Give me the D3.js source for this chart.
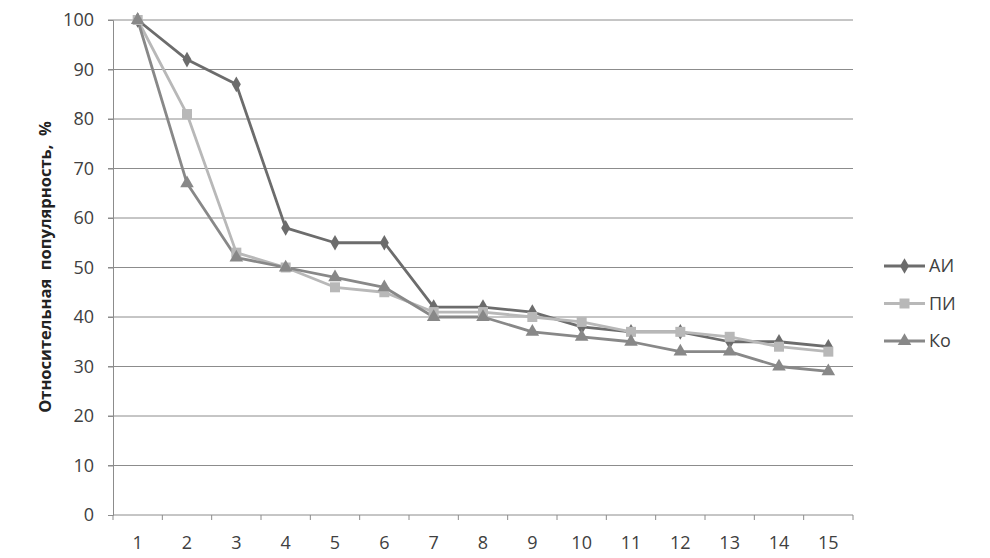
<!DOCTYPE html>
<html><head><meta charset="utf-8">
<script src="https://cdn.jsdelivr.net/npm/d3@7"></script>
<style>body{margin:0;background:#fff}svg{display:block}text{font-family:"Open Sans",sans-serif}</style>
</head><body><svg id="c" width="990" height="558"></svg>
<script>
const categories = ["1","2","3","4","5","6","7","8","9","10","11","12","13","14","15"];
const seriesNames = ["АИ","ПИ","Ко"];
const valuesAI = [100,92,87,58,55,55,42,42,41,38,37,37,35,35,34];
const valuesPI = [100,81,53,50,46,45,41,41,40,39,37,37,36,34,33];
const valuesKo = [100,67,52,50,48,46,40,40,37,36,35,33,33,30,29];
const yTicks = [0,10,20,30,40,50,60,70,80,90,100];
const yTitle = "Относительная  популярность,  %";

const series = [
  {name: seriesNames[0], values: valuesAI, color: "#6c6c6c", symbol: d3.symbolDiamond, size: 70},
  {name: seriesNames[1], values: valuesPI, color: "#b8b8b8", symbol: d3.symbolSquare, size: 100},
  {name: seriesNames[2], values: valuesKo, color: "#888888", symbol: d3.symbolTriangle, size: 80}
];

const svg = d3.select("#c");
const L = 113, R = 853, T = 20, B = 515;
const x = d3.scaleBand().domain(categories).range([L, R]);
const y = d3.scaleLinear().domain([0, 100]).range([B, T]);

svg.append("g").selectAll("line").data(yTicks.filter(d => d > 0)).join("line")
  .attr("x1", L - 5).attr("x2", R).attr("y1", d => y(d)).attr("y2", d => y(d))
  .attr("stroke", "#8c8c8c").attr("stroke-width", 1);

const ya = svg.append("g").attr("transform", `translate(${L},0)`)
  .call(d3.axisLeft(y).tickValues(yTicks).tickSize(5).tickPadding(14));
ya.select(".domain").attr("stroke", "#8c8c8c");
ya.selectAll(".tick line").attr("stroke", "#8c8c8c");
ya.selectAll("text").attr("font-size", 18).attr("fill", "#404040").attr("font-family", "Open Sans, sans-serif");

const xa = svg.append("g").attr("transform", `translate(0,${B})`)
  .call(d3.axisBottom(x).tickSize(0).tickPadding(21));
xa.select(".domain").attr("stroke", "#8c8c8c").attr("d", `M${L},0H${R}`);
xa.selectAll("text").attr("font-size", 18).attr("fill", "#404040").attr("font-family", "Open Sans, sans-serif");
svg.append("g").selectAll("line").data(d3.range(categories.length + 1)).join("line")
  .attr("x1", i => L + i * x.bandwidth()).attr("x2", i => L + i * x.bandwidth())
  .attr("y1", B).attr("y2", B + 5).attr("stroke", "#8c8c8c");

svg.append("text").attr("transform", `translate(51,267) rotate(-90)`)
  .attr("text-anchor", "middle").attr("font-size", 16.5).attr("font-weight", "bold")
  .attr("fill", "#222").style("white-space", "pre").attr("xml:space", "preserve").text(yTitle);

const cx = c => x(c) + x.bandwidth() / 2;
const line = d3.line().x((d, i) => cx(categories[i])).y(d => y(d));

series.forEach(s => {
  svg.append("path").datum(s.values).attr("d", line).attr("fill", "none")
    .attr("stroke", s.color).attr("stroke-width", 2.8).attr("stroke-linejoin", "round");
});
series.forEach(s => {
  svg.append("g").selectAll("path").data(s.values).join("path")
    .attr("d", d3.symbol().type(s.symbol).size(s.size))
    .attr("transform", (d, i) => `translate(${cx(categories[i])},${y(d)})`)
    .attr("fill", s.color);
});

const lg = svg.append("g");
series.forEach((s, i) => {
  const ly = 266 + i * 37.5;
  lg.append("line").attr("x1", 884).attr("x2", 925).attr("y1", ly).attr("y2", ly)
    .attr("stroke", s.color).attr("stroke-width", 2.8);
  lg.append("path").attr("d", d3.symbol().type(s.symbol).size(s.size))
    .attr("transform", `translate(904.5,${ly})`).attr("fill", s.color);
  lg.append("text").attr("x", 929).attr("y", ly).attr("dy", "0.36em")
    .attr("font-size", 18).attr("fill", "#404040").text(s.name);
});
</script></body></html>
